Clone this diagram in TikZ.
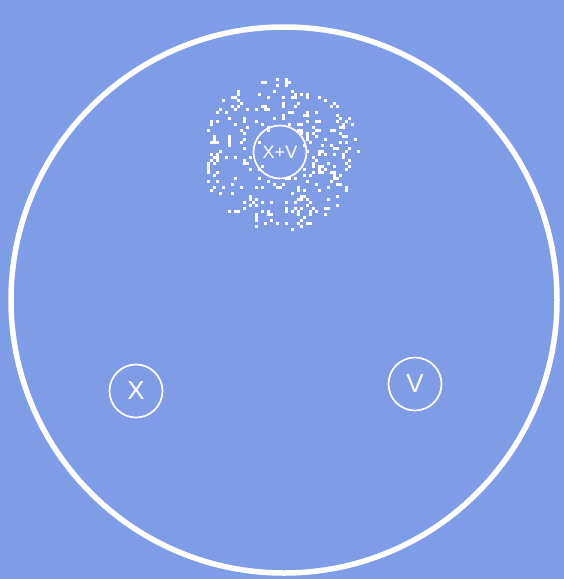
\documentclass[tikz,border=0pt]{standalone}
\usepackage{fontspec}
\setmainfont{Liberation Sans}
\definecolor{bg}{RGB}{127,157,230}
\begin{document}
\begin{tikzpicture}[x=1pt,y=-1pt,
  dish/.style={circle,draw=white,line width=5.5pt,minimum size=546pt,inner sep=0pt},
  ring/.style={circle,draw=white,line width=1.7pt,minimum size=53pt,inner sep=0pt,text=white,font=\fontsize{26}{26}\selectfont},
  dot/.style={fill=white}]
\fill[bg] (0,0) rectangle (564,579);
\useasboundingbox (0,0) rectangle (564,579);
\node[dish] (dish) at (284,300) {};
\pgfmathsetseed{4242}
\foreach \i in {1,...,290}{
  \pgfmathsetmacro\ang{rnd*360}
  \pgfmathsetmacro\rad{sqrt(31*31+(80*80-31*31)*rnd)}
  \pgfmathsetmacro\px{3*round((279+\rad*cos(\ang))/3)}
  \pgfmathsetmacro\py{3*round((153+0.95*\rad*sin(\ang))/3)}
  \fill[dot] (\px,\py) rectangle +(3,3);
}
\foreach \i in {1,...,12}{
  \pgfmathsetmacro\ang{rnd*360}
  \pgfmathsetmacro\rad{24+4*rnd}
  \pgfmathsetmacro\px{3*round((280+\rad*cos(\ang))/3)}
  \pgfmathsetmacro\py{3*round((152+\rad*sin(\ang))/3)}
  \fill[dot] (\px,\py) rectangle +(3,3);
}
\node[ring,font=\fontsize{18}{18}\selectfont] (xv) at (280,152) {X+V};
\node[ring] (x) at (136,391) {X};
\node[ring] (v) at (415,384) {V};
\end{tikzpicture}
\end{document}
